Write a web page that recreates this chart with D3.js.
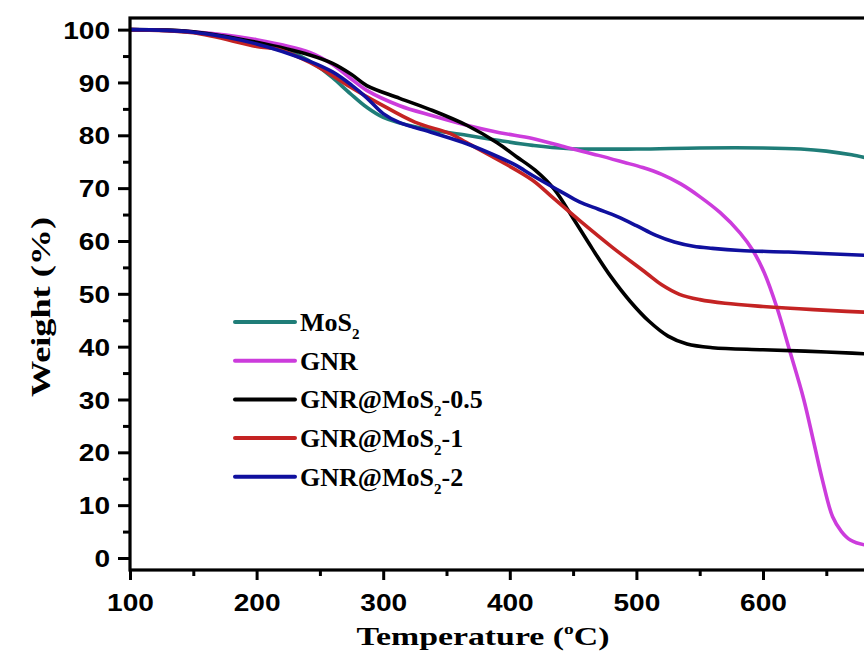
<!DOCTYPE html>
<html>
<head>
<meta charset="utf-8">
<script src="https://cdn.jsdelivr.net/npm/d3@7"></script>
<style>
  body { margin: 0; background: #fff; }
  svg { display: block; }
</style>
</head>
<body>
<div id="chart"></div>
<script>
//
//    TGA curves - weight loss against temperature
//
const seriesNames = ['MoS2', 'GNR', 'GNR@MoS2-0.5', 'GNR@MoS2-1', 'GNR@MoS2-2']

const mos2Temp = [100, 150, 200, 230, 242, 250, 260, 274, 287, 300, 327, 366, 392, 418, 445, 500, 550, 600, 630, 650, 670, 690, 710]
const mos2Weight = [100, 99.5, 97.6, 95.5, 94, 92.8, 90.9, 87.9, 85.3, 83.4, 81.5, 80, 79, 78.1, 77.5, 77.4, 77.6, 77.6, 77.4, 77, 76.3, 75.3, 74.5]

const gnrTemp = [100, 150, 200, 242, 260, 274, 287, 313, 339, 366, 392, 418, 445, 470, 490, 505, 520, 535, 550, 566, 582, 592, 601, 611, 621, 632, 640, 647, 655, 662, 669, 680, 700]
const gnrWeight = [100, 99.6, 98.1, 95.7, 93.4, 90.8, 88.5, 85.6, 83.7, 81.9, 80.5, 79.4, 77.7, 76.2, 74.9, 73.9, 72.6, 70.8, 68.4, 65.4, 61.5, 58.2, 54, 47.4, 39.3, 30.2, 22, 14.7, 7.8, 5, 3.4, 2.5, 2.3]

const gnr05Temp = [100, 150, 200, 242, 260, 275, 287, 313, 339, 366, 390, 405, 420, 435, 450, 465, 480, 495, 510, 525, 540, 560, 600, 650, 700]
const gnr05Weight = [100, 99.6, 97.6, 95.2, 93.6, 91.5, 89.4, 87, 84.7, 81.9, 78.6, 76, 73.4, 69.8, 64.3, 58.6, 53.2, 48.6, 44.8, 42, 40.5, 39.8, 39.4, 39, 38.4]

const gnr1Temp = [100, 150, 200, 218, 242, 260, 275, 297, 325, 353, 366, 392, 418, 434, 455, 481, 508, 520, 534, 550, 570, 600, 640, 700]
const gnr1Weight = [100, 99.4, 96.8, 96.2, 93.8, 91.3, 89, 86, 82.5, 80.3, 78.6, 75.2, 71.5, 68.2, 63.9, 58.8, 53.9, 51.7, 49.9, 48.9, 48.2, 47.6, 47, 46.3]

const gnr2Temp = [100, 150, 200, 242, 260, 275, 287, 300, 313, 339, 366, 392, 405, 418, 440, 455, 470, 485, 500, 515, 530, 545, 560, 582, 620, 680, 700]
const gnr2Weight = [100, 99.5, 97.3, 94, 92, 89.5, 87.1, 84.1, 82.4, 80.5, 78.4, 75.8, 74.3, 72.4, 69.4, 67.4, 66, 64.6, 62.9, 61.1, 59.8, 59, 58.6, 58.2, 57.9, 57.3, 57.1]

const seriesColours = ['#1f7d78', '#cc3cdc', '#000000', '#c42323', '#10109e']

const xTicks = [100, 200, 300, 400, 500, 600]
const xMinorTicks = [150, 250, 350, 450, 550, 650, 750]
const yTicks = [0, 10, 20, 30, 40, 50, 60, 70, 80, 90, 100]
const yMinorTicks = [5, 15, 25, 35, 45, 55, 65, 75, 85, 95]

const width = 864
const height = 659
const margin = { left: 130, top: 18, bottom: 89 }

function zipSeries (temps, weights) {
  return temps.map((t, i) => { return { t: t, w: weights[i] } })
}

const series = [
  zipSeries(mos2Temp, mos2Weight),
  zipSeries(gnrTemp, gnrWeight),
  zipSeries(gnr05Temp, gnr05Weight),
  zipSeries(gnr1Temp, gnr1Weight),
  zipSeries(gnr2Temp, gnr2Weight)
]

const svg = d3.select('#chart').append('svg')
  .attr('width', width)
  .attr('height', height)

// plot box runs past the right edge of the picture, as in the original
const x = d3.scaleLinear().domain([100, 800]).range([margin.left, margin.left + 700 * 1.266])
const plotBottom = height - margin.bottom
const y = d3.scaleLinear().domain([-2.27, 102.2]).range([plotBottom, margin.top])

svg.append('defs').append('clipPath').attr('id', 'plotClip')
  .append('rect')
    .attr('x', x.range()[0])
    .attr('y', margin.top)
    .attr('width', x.range()[1] - x.range()[0])
    .attr('height', plotBottom - margin.top)

//
// Curves
//
const line = d3.line()
  .x(d => x(d.t))
  .y(d => y(d.w))
  .curve(d3.curveCatmullRom.alpha(0.5))

svg.append('g').attr('clip-path', 'url(#plotClip)')
  .selectAll('path')
  .data(series)
  .enter()
  .append('path')
    .attr('d', line)
    .attr('fill', 'none')
    .attr('stroke', (d, i) => seriesColours[i])
    .attr('stroke-width', 3.6)
    .attr('stroke-linejoin', 'round')

//
// Axes
//
const tickFont = "'Liberation Sans', Arial, sans-serif"
const titleFont = "'Liberation Serif', 'Times New Roman', serif"

const xAxis = svg.append('g')
  .attr('transform', 'translate(0,' + plotBottom + ')')
  .call(d3.axisBottom(x).tickValues(xTicks).tickSize(10).tickPadding(14).tickFormat(d3.format('d')))
const xMinor = svg.append('g')
  .attr('transform', 'translate(0,' + plotBottom + ')')
  .call(d3.axisBottom(x).tickValues(xMinorTicks).tickSize(6).tickFormat(''))

const yAxis = svg.append('g')
  .attr('transform', 'translate(' + margin.left + ',0)')
  .call(d3.axisLeft(y).tickValues(yTicks).tickSize(12).tickFormat(d3.format('d')))
const yMinor = svg.append('g')
  .attr('transform', 'translate(' + margin.left + ',0)')
  .call(d3.axisLeft(y).tickValues(yMinorTicks).tickSize(7).tickFormat(''))

for (const g of [xAxis, xMinor, yAxis, yMinor]) {
  g.select('.domain').remove()
  g.selectAll('line').attr('stroke', '#000').attr('stroke-width', 3)
}

xAxis.selectAll('text')
  .attr('font-family', tickFont)
  .attr('font-weight', 'bold')
  .attr('font-size', 24)
  .attr('fill', '#000')
  .attr('transform', 'scale(1.17,1)')

yAxis.selectAll('text')
  .attr('font-family', tickFont)
  .attr('font-weight', 'bold')
  .attr('font-size', 24)
  .attr('fill', '#000')
  .attr('x', -20 / 1.17)
  .attr('dy', '0.36em')
  .attr('transform', 'scale(1.17,1)')

// frame: left, top and bottom edges (right edge falls outside the picture)
svg.append('rect')
  .attr('x', x.range()[0])
  .attr('y', margin.top)
  .attr('width', x.range()[1] - x.range()[0])
  .attr('height', plotBottom - margin.top)
  .attr('fill', 'none')
  .attr('stroke', '#000')
  .attr('stroke-width', 3.2)

//
// Axis titles
//
const xTitle = svg.append('text')
  .attr('x', 483)
  .attr('y', 645)
  .attr('text-anchor', 'middle')
  .attr('font-family', titleFont)
  .attr('font-weight', 'bold')
  .attr('font-size', 26)
  .attr('textLength', 253)
  .attr('lengthAdjust', 'spacingAndGlyphs')
xTitle.append('tspan').text('Temperature (')
xTitle.append('tspan').attr('font-size', 15).attr('dy', -11).text('o')
xTitle.append('tspan').attr('dy', 11).text('C)')

svg.append('text')
  .attr('transform', 'translate(50,307) rotate(-90)')
  .attr('text-anchor', 'middle')
  .attr('font-family', titleFont)
  .attr('font-weight', 'bold')
  .attr('font-size', 27)
  .attr('textLength', 180)
  .attr('lengthAdjust', 'spacingAndGlyphs')
  .text('Weight (%)')

//
// Legend
//
const legend = svg.append('g')
const legendRows = legend.selectAll('g')
  .data(seriesNames)
  .enter()
  .append('g')
    .attr('transform', (d, i) => 'translate(235,' + (322 + i * 38.7) + ')')

legendRows.append('line')
  .attr('x1', 0).attr('x2', 60)
  .attr('stroke', (d, i) => seriesColours[i])
  .attr('stroke-width', 4)
  .attr('stroke-linecap', 'round')

legendRows.append('text')
  .attr('x', 65)
  .attr('y', 9)
  .attr('font-family', titleFont)
  .attr('font-weight', 'bold')
  .attr('font-size', 26)
  .attr('fill', '#000')
  .each(function (name) {
    // subscript the 2 in MoS2
    const parts = name.split('MoS2')
    const el = d3.select(this)
    parts.forEach((p, j) => {
      if (j > 0) {
        el.append('tspan').text('MoS')
        el.append('tspan').attr('font-size', 15).attr('dy', 8).text('2')
        el.append('tspan').attr('dy', -8).text(p)
      } else {
        el.append('tspan').text(p)
      }
    })
  })
</script>
</body>
</html>
